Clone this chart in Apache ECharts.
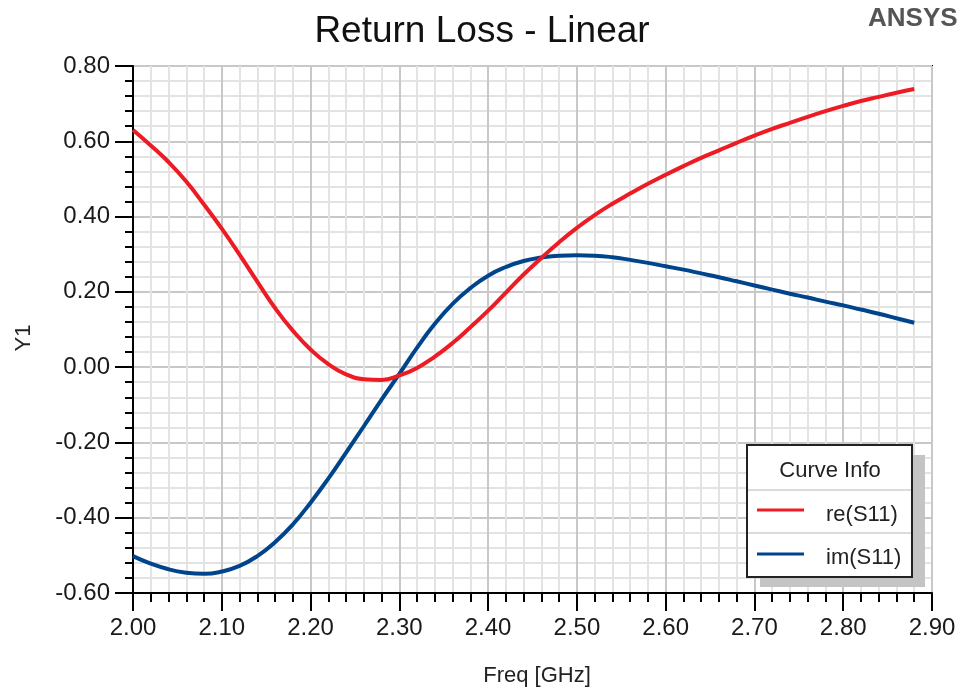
<!DOCTYPE html>
<html>
<head>
<meta charset="utf-8">
<script src="https://cdn.jsdelivr.net/npm/echarts@6/dist/echarts.min.js"></script>
<style>
html,body{margin:0;padding:0;background:#fff;}
#chart{width:959px;height:691px;}
</style>
</head>
<body>
<div id="chart"></div>
<script>
var freqs = [2.00,2.02,2.04,2.06,2.08,2.10,2.12,2.14,2.16,2.18,2.20,2.22,2.24,2.26,2.28,2.30,2.32,2.34,2.36,2.38,2.40,2.42,2.44,2.46,2.48,2.50,2.52,2.54,2.56,2.58,2.60,2.62,2.64,2.66,2.68,2.70,2.72,2.74,2.76,2.78,2.80,2.82,2.84,2.86,2.88];
var reS11 = [0.630,0.589,0.545,0.493,0.432,0.368,0.299,0.227,0.157,0.097,0.047,0.008,-0.019,-0.032,-0.034,-0.022,-0.002,0.028,0.064,0.106,0.150,0.198,0.246,0.290,0.332,0.370,0.404,0.434,0.461,0.487,0.511,0.534,0.556,0.576,0.596,0.615,0.633,0.649,0.665,0.680,0.694,0.707,0.718,0.729,0.739];
var imS11 = [-0.502,-0.522,-0.537,-0.546,-0.549,-0.543,-0.528,-0.502,-0.465,-0.418,-0.360,-0.296,-0.227,-0.157,-0.086,-0.018,0.052,0.115,0.168,0.210,0.243,0.266,0.282,0.291,0.296,0.297,0.296,0.292,0.285,0.277,0.268,0.259,0.249,0.239,0.228,0.217,0.206,0.195,0.185,0.174,0.164,0.153,0.142,0.130,0.118];
var seriesNames = ['re(S11)','im(S11)'];
var seriesColors = ['#ed1c24','#00458b'];
var titleText = 'Return Loss - Linear';
var xName = 'Freq [GHz]';
var yName = 'Y1';
var legendTitle = 'Curve Info';
var brand = 'ANSYS';

var FONT = "'Liberation Sans', Arial, sans-serif";
function pairs(vals){ return freqs.map(function(f,i){ return [f, vals[i]]; }); }

var chart = echarts.init(document.getElementById('chart'));
var gridL = 133, gridT = 66, gridR = 27, gridB = 98;

var legX = 747, legY = 445, legW = 165, legH = 132;

var option = {
  backgroundColor: '#ffffff',
  animation: false,
  title: {
    text: titleText, left: 477, top: 8, textAlign: 'center',
    textStyle: {fontFamily: FONT, fontSize: 37, fontWeight: 'normal', color: '#111'}
  },
  grid: {left: gridL, top: gridT, right: gridR, bottom: gridB, show: true, borderColor: '#000', borderWidth: 2, backgroundColor: 'transparent'},
  xAxis: {
    type: 'value', min: 2.0, max: 2.9, interval: 0.1,
    axisLine: {show: true, onZero: false, lineStyle: {color: '#000', width: 2}},
    axisTick: {show: true, inside: false, length: 18, lineStyle: {color: '#000', width: 2}},
    minorTick: {show: true, splitNumber: 5, length: 9, lineStyle: {color: '#000', width: 2}},
    splitLine: {show: true, lineStyle: {color: '#c8c8c8', width: 2}},
    minorSplitLine: {show: true, lineStyle: {color: '#e3e3e3', width: 2}},
    axisLabel: {margin: 23, fontFamily: FONT, fontSize: 24, color: '#1a1a1a', formatter: function(v){return v.toFixed(2);}}
  },
  yAxis: {
    type: 'value', min: -0.6, max: 0.8, interval: 0.2,
    axisLine: {show: true, onZero: false, lineStyle: {color: '#000', width: 2}},
    axisTick: {show: true, inside: false, length: 18, lineStyle: {color: '#000', width: 2}},
    minorTick: {show: true, splitNumber: 5, length: 8, lineStyle: {color: '#000', width: 2}},
    splitLine: {show: true, lineStyle: {color: '#c8c8c8', width: 2}},
    minorSplitLine: {show: true, lineStyle: {color: '#e3e3e3', width: 2}},
    axisLabel: {margin: 23, fontFamily: FONT, fontSize: 24, color: '#1a1a1a', formatter: function(v){return v.toFixed(2);}}
  },
  series: [
    {name: seriesNames[0], type: 'line', data: pairs(reS11), smooth: true, showSymbol: false, z: 5,
     lineStyle: {color: seriesColors[0], width: 4}},
    {name: seriesNames[1], type: 'line', data: pairs(imS11), smooth: true, showSymbol: false, z: 4,
     lineStyle: {color: seriesColors[1], width: 4}}
  ],
  graphic: [
    {type: 'text', left: 868, top: 6, z: 10, style: {text: brand, font: "bold 26px " + FONT, fill: '#555'}},
    {type: 'text', x: 537, y: 676, z: 10, style: {text: xName, font: "22px " + FONT, fill: '#222', textAlign: 'center', textVerticalAlign: 'middle'}},
    {type: 'text', x: 24, y: 338, rotation: Math.PI/2, z: 10, style: {text: yName, font: "22px " + FONT, fill: '#222', textAlign: 'center', textVerticalAlign: 'middle'}},
    {type: 'rect', z: 20, shape: {x: legX + 13, y: legY + 10, width: legW, height: legH}, style: {fill: '#c4c4c4'}},
    {type: 'rect', z: 21, shape: {x: legX, y: legY, width: legW, height: legH}, style: {fill: '#fff', stroke: '#222', lineWidth: 2}},
    {type: 'line', z: 22, shape: {x1: legX + 1, y1: 490, x2: legX + legW - 1, y2: 490}, style: {stroke: '#cfcfcf', lineWidth: 1.5}},
    {type: 'line', z: 22, shape: {x1: legX + 1, y1: 533, x2: legX + legW - 1, y2: 533}, style: {stroke: '#cfcfcf', lineWidth: 1.5}},
    {type: 'text', z: 22, x: 830, y: 471, style: {text: legendTitle, font: "22px " + FONT, fill: '#222', textAlign: 'center', textVerticalAlign: 'middle'}},
    {type: 'line', z: 22, shape: {x1: 757, y1: 510, x2: 804, y2: 510}, style: {stroke: seriesColors[0], lineWidth: 3}},
    {type: 'text', z: 22, x: 826, y: 515, style: {text: seriesNames[0], font: "22px " + FONT, fill: '#222', textAlign: 'left', textVerticalAlign: 'middle'}},
    {type: 'line', z: 22, shape: {x1: 757, y1: 554, x2: 804, y2: 554}, style: {stroke: seriesColors[1], lineWidth: 3}},
    {type: 'text', z: 22, x: 826, y: 558, style: {text: seriesNames[1], font: "22px " + FONT, fill: '#222', textAlign: 'left', textVerticalAlign: 'middle'}}
  ]
};
chart.setOption(option);
</script>
</body>
</html>
